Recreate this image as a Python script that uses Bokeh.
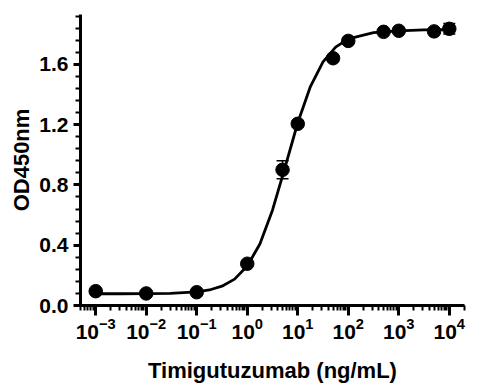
from bokeh.plotting import figure
from bokeh.models import ColumnDataSource, FixedTicker, PrintfTickFormatter, Whisker, TeeHead, Range1d
from bokeh.embed import file_html
from bokeh.resources import INLINE

# Measured data (Timigutuzumab concentration, ng/mL) vs OD450
conc = [0.001, 0.01, 0.1, 1, 5, 10, 50, 100, 500, 1000, 5000, 10000]
od = [0.095, 0.080, 0.088, 0.277, 0.900, 1.205, 1.640, 1.755, 1.815, 1.822, 1.818, 1.835]
err = [0.008, 0.008, 0.008, 0.010, 0.060, 0.020, 0.020, 0.012, 0.012, 0.012, 0.012, 0.035]

# Fitted curve
curve_x = [0.001, 0.003, 0.01, 0.03, 0.1, 0.178, 0.316, 0.562, 1.0, 1.78, 3.16, 5.62,
           10.0, 17.8, 31.6, 56.2, 100, 316, 1000, 3160, 10000]
curve_y = [0.078, 0.078, 0.079, 0.081, 0.091, 0.103, 0.128, 0.175, 0.262, 0.408, 0.632,
           0.918, 1.212, 1.452, 1.616, 1.714, 1.768, 1.810, 1.822, 1.828, 1.830]

y_major = [0.0, 0.4, 0.8, 1.2, 1.6]
x_major = [0.001, 0.01, 0.1, 1, 10, 100, 1000, 10000]

FONT = "Liberation Sans"

p = figure(width=480, height=385, x_axis_type="log",
           x_range=Range1d(5e-4, 2e4), y_range=Range1d(0.0, 1.93),
           output_backend="svg", toolbar_location=None,
           min_border_left=80, min_border_right=16, min_border_top=14, min_border_bottom=80)
p.outline_line_color = None
p.grid.visible = False
p.background_fill_color = "white"
p.border_fill_color = "white"

p.line(curve_x, curve_y, line_color="black", line_width=2.8)

src = ColumnDataSource(dict(x=conc, y=od,
                            lo=[a - b for a, b in zip(od, err)],
                            hi=[a + b for a, b in zip(od, err)]))
w = Whisker(source=src, base="x", lower="lo", upper="hi", line_color="black", line_width=1.5,
            upper_head=TeeHead(size=12, line_color="black", line_width=1.5),
            lower_head=TeeHead(size=12, line_color="black", line_width=1.5))
p.add_layout(w)
p.scatter("x", "y", source=src, size=13.5, marker="circle", fill_color="black", line_color="black")

# axes
xminor = [m * 10.0 ** e for e in range(-4, 5) for m in range(2, 10)]
p.xaxis.ticker = FixedTicker(ticks=x_major, minor_ticks=xminor)
ymin = [round(0.08 * i, 2) for i in range(0, 25)]
p.yaxis.ticker = FixedTicker(ticks=y_major, minor_ticks=ymin)
p.yaxis.formatter = PrintfTickFormatter(format="%.1f")

for ax in (p.xaxis[0], p.yaxis[0]):
    ax.axis_line_width = 3
    ax.axis_line_color = "black"
    ax.major_tick_line_width = 3
    ax.minor_tick_line_width = 2
    ax.major_tick_line_color = "black"
    ax.minor_tick_line_color = "black"
    ax.major_tick_in = 0
    ax.minor_tick_in = 0
    ax.major_label_text_font = FONT
    ax.major_label_text_font_style = "bold"
    ax.major_label_text_font_size = "21px"
    ax.major_label_text_color = "black"
    ax.axis_label_text_font = FONT
    ax.axis_label_text_font_style = "bold"
    ax.axis_label_text_font_size = "22px"
    ax.axis_label_text_color = "black"

p.xaxis.major_tick_out = 10
p.xaxis.minor_tick_out = 5
p.yaxis.major_tick_out = 7
p.yaxis.minor_tick_out = 5
p.xaxis.major_label_standoff = 2
p.yaxis.major_label_standoff = 5
p.xaxis.axis_label = "Timigutuzumab (ng/mL)"
p.yaxis.axis_label = "OD450nm"
p.xaxis.axis_label_standoff = 16
p.yaxis.axis_label_standoff = 2

open("out.html", "w").write(file_html(p, INLINE))
